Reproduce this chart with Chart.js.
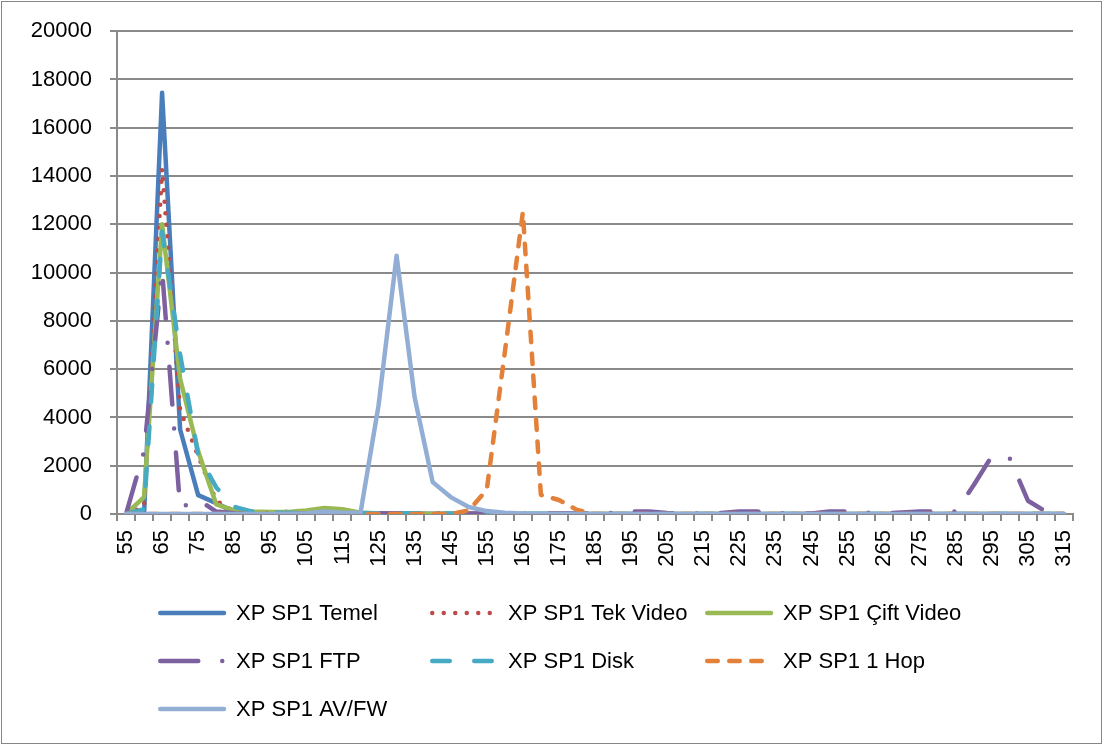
<!DOCTYPE html>
<html><head><meta charset="utf-8">
<script src="https://cdn.jsdelivr.net/npm/chart.js@4.4.1/dist/chart.umd.min.js"></script>
<style>html,body{margin:0;padding:0;background:#fff;overflow:hidden;}canvas{display:block;}</style>
</head><body>
<canvas id="c" width="1103" height="745"></canvas>
<script>
const categories = ['55','60','65','70','75','80','85','90','95','100',
  '105','110','115','120','125','130','135','140','145','150',
  '155','160','165','170','175','180','185','190','195','200',
  '205','210','215','220','225','230','235','240','245','250',
  '255','260','265','270','275','280','285','290','295','300',
  '305','310','315'];

const seriesNames = ['XP SP1 Temel','XP SP1 Tek Video','XP SP1 Çift Video','XP SP1 FTP','XP SP1 Disk','XP SP1 1 Hop','XP SP1 AV/FW'];

const temel = [0,0,17450,3500,780,450,80,40,30,30,
  40,40,30,20,10,10,10,10,10,10,
  5,5,5,5,0,0,0,0,0,0,
  0,0,0,0,0,0,0,0,0,0,
  0,0,0,0,0,0,0,0,0,0,
  0,0,0];
const tekVideo = [0,300,14300,4300,2400,550,100,60,60,100,
  150,120,60,40,30,20,20,10,10,10,
  10,10,5,5,5,0,0,0,0,0,
  0,0,0,0,0,0,0,0,0,0,
  0,0,0,0,0,0,0,0,0,0,
  0,0,0];
const ciftVideo = [0,700,12000,5600,2600,400,150,100,80,80,
  150,250,200,50,20,10,10,10,10,10,
  5,5,5,5,0,0,0,0,0,0,
  0,0,0,0,0,0,0,0,0,0,
  0,0,0,0,0,0,0,0,0,0,
  0,0,0];
const ftp = [0,2600,10100,250,600,100,30,20,20,20,
  20,20,20,30,30,20,20,20,20,20,
  20,20,20,20,20,20,20,40,100,100,
  40,20,20,40,100,100,40,20,20,100,
  100,60,30,60,100,100,100,1200,2400,2300,
  550,100,0];
const disk = [0,200,11700,6600,2450,1100,300,100,60,50,
  60,80,60,40,30,30,30,20,20,20,
  10,10,10,10,0,0,0,0,0,0,
  0,0,0,0,0,0,0,0,0,0,
  0,0,0,0,0,0,0,0,0,0,
  0,0,0];
const oneHop = [0,0,0,0,0,0,0,0,0,0,
  0,0,0,0,0,0,0,0,0,150,
  1000,6700,12500,790,580,170,0,0,0,0,
  0,0,0,0,0,0,0,0,0,0,
  0,0,0,0,0,0,0,0,0,0,
  0,0,0];
const avfw = [0,0,0,0,0,0,0,0,0,0,
  30,100,50,50,4500,10700,4840,1320,700,290,
  120,50,20,0,0,0,0,0,0,0,
  0,0,0,0,0,0,0,0,0,0,
  0,0,0,0,0,0,0,0,0,0,
  0,0,0];

const yTickLabels = ['0','2000','4000','6000','8000','10000','12000','14000','16000','18000','20000'];

const FONT = 'Liberation Sans';
const seriesValues = [temel, tekVideo, ciftVideo, ftp, disk, oneHop, avfw];
const seriesColors = ['#4A7EBB','#BE4B48','#98B954','#7D60A0','#46AAC5','#E3803A','#93AED5'];
const seriesDash = [[], [0, 11.5], [], [38, 24, 0, 24], [17.5, 24.5], [10.5, 11.5], []];

const datasets = seriesValues.map((vals, i) => ({
  label: seriesNames[i],
  data: vals,
  borderColor: seriesColors[i],
  backgroundColor: seriesColors[i],
  borderWidth: 4.5,
  borderDash: seriesDash[i],
  borderCapStyle: 'round',
  borderJoinStyle: 'round',
  pointRadius: 0,
  tension: 0,
  fill: false,
  order: seriesValues.length - 1 - i
}));

const extras = {
  id: 'extras',
  afterDraw(chart) {
    const ctx = chart.ctx;
    const cols = [158, 430, 705];
    const rows = [613, 661, 709];
    chart.data.datasets.forEach((ds, i) => {
      const x0 = cols[i % 3], y = rows[Math.floor(i / 3)];
      ctx.save();
      ctx.strokeStyle = ds.borderColor;
      ctx.lineWidth = ds.borderWidth;
      ctx.lineCap = 'round';
      ctx.setLineDash(ds.borderDash || []);
      ctx.beginPath();
      ctx.moveTo(x0 + 2.25, y);
      ctx.lineTo(x0 + 66, y);
      ctx.stroke();
      ctx.setLineDash([]);
      ctx.fillStyle = '#000';
      ctx.font = '22px "' + FONT + '"';
      ctx.textBaseline = 'middle';
      ctx.textAlign = 'left';
      ctx.fillText(ds.label, x0 + 78, y + 1);
      ctx.restore();
    });
    ctx.save();
    ctx.strokeStyle = '#868686';
    ctx.lineWidth = 1;
    ctx.strokeRect(1.5, 1.5, chart.width - 3, chart.height - 3);
    ctx.restore();
  }
};

new Chart(document.getElementById('c'), {
  type: 'line',
  data: { labels: categories, datasets },
  options: {
    responsive: false,
    animation: false,
    layout: { padding: { left: 0, top: 30, right: 30, bottom: 151 } },
    plugins: { legend: { display: false }, tooltip: { enabled: false } },
    scales: {
      x: {
        type: 'category',
        offset: true,
        grid: { offset: true, drawOnChartArea: false, drawTicks: true, tickLength: 7, color: '#8A8A8A', lineWidth: 2 },
        border: { display: true, color: '#8A8A8A', width: 2 },
        ticks: {
          autoSkip: false, maxRotation: 90, minRotation: 90, padding: 9, color: '#000',
          font: { family: FONT, size: 22 },
          callback: (v, i) => (i % 2 === 0 ? categories[i] : '')
        },
        afterFit: s => { s.height = 80; }
      },
      y: {
        min: 0, max: 20000,
        grid: { color: '#8A8A8A', lineWidth: 2, tickLength: 7 },
        border: { display: true, color: '#8A8A8A', width: 2 },
        ticks: {
          stepSize: 2000, padding: 18, color: '#000',
          font: { family: FONT, size: 22 },
          callback: (v, i) => yTickLabels[i]
        },
        afterFit: s => { s.width = 117; }
      }
    }
  },
  plugins: [extras]
});
</script>
</body></html>
